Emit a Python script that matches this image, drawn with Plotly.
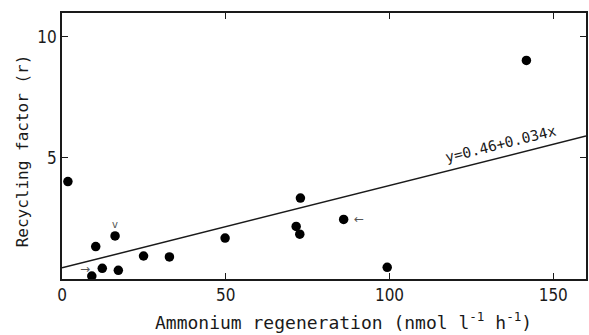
import plotly.graph_objects as go

# Data
regeneration = [1.8, 9.1, 10.3, 12.3, 16.2, 17.2, 24.9, 32.8, 49.8, 72.8, 71.5, 72.6, 86.0, 99.3, 141.8]
recycling = [4.02, 0.12, 1.34, 0.44, 1.78, 0.36, 0.95, 0.91, 1.69, 3.34, 2.17, 1.85, 2.46, 0.48, 9.02]

intercept = 0.46
slope = 0.034
line_x = [0, 160]
line_y = [intercept + slope * v for v in line_x]

x_ticks = [0, 50, 100, 150]
y_ticks = [5, 10]

tick_font = "Liberation Sans Narrow, DejaVu Sans Condensed, Liberation Sans"
title_font = "DejaVu Sans Mono"
ink = "#1a1a1a"

fig = go.Figure()
fig.add_trace(go.Scatter(x=line_x, y=line_y, mode="lines",
                         line=dict(color=ink, width=1.5), showlegend=False, hoverinfo="skip"))
fig.add_trace(go.Scatter(x=regeneration, y=recycling, mode="markers",
                         marker=dict(color="black", size=9.5), showlegend=False))

# small open arrows pointing at some points
arrow_font = dict(size=12, color="#555", family="DejaVu Sans")
fig.add_annotation(x=9.1, y=0.12, xshift=-7, yshift=7, text="→", showarrow=False, font=arrow_font)
fig.add_annotation(x=16.2, y=1.78, xshift=0, yshift=11, text="v", showarrow=False,
                   font=dict(size=10, color="#555", family="DejaVu Sans"))
fig.add_annotation(x=86.0, y=2.46, xshift=15, yshift=0, text="←", showarrow=False, font=arrow_font)

fig.add_annotation(x=134, y=5.56, text="y=0.46+0.034x", showarrow=False,
                   textangle=-14, font=dict(size=14.5, color=ink, family=title_font),
                   xanchor="center", yanchor="middle")

# axis titles
fig.add_annotation(xref="paper", yref="paper", x=0.538, y=0, yshift=-42,
                   text="Ammonium regeneration (nmol l<sup>-1</sup> h<sup>-1</sup>)",
                   showarrow=False, xanchor="center", yanchor="middle",
                   font=dict(size=18, color=ink, family=title_font))
fig.add_annotation(xref="paper", yref="paper", x=0, xshift=-40, y=0.48,
                   text="Recycling factor (r)", textangle=-90,
                   showarrow=False, xanchor="center", yanchor="middle",
                   font=dict(size=16, color=ink, family=title_font))

axis_common = dict(showgrid=False, zeroline=False, showline=True, linecolor=ink,
                   linewidth=1.6, mirror="allticks", ticks="inside", ticklen=6,
                   tickcolor=ink, tickwidth=1.2, automargin=False,
                   tickfont=dict(size=17, color=ink, family=tick_font))

fig.update_xaxes(range=[0, 160], tickvals=x_ticks, **axis_common)
fig.update_yaxes(range=[0, 10.98], tickvals=y_ticks, **axis_common)

fig.update_layout(width=589, height=335, margin=dict(l=62, r=3, t=13, b=56),
                  plot_bgcolor="white", paper_bgcolor="white")

fig.write_html("out.html", config={"responsive": False, "displayModeBar": False},
               post_script="document.body.style.margin='0';document.body.style.overflow='hidden';")
